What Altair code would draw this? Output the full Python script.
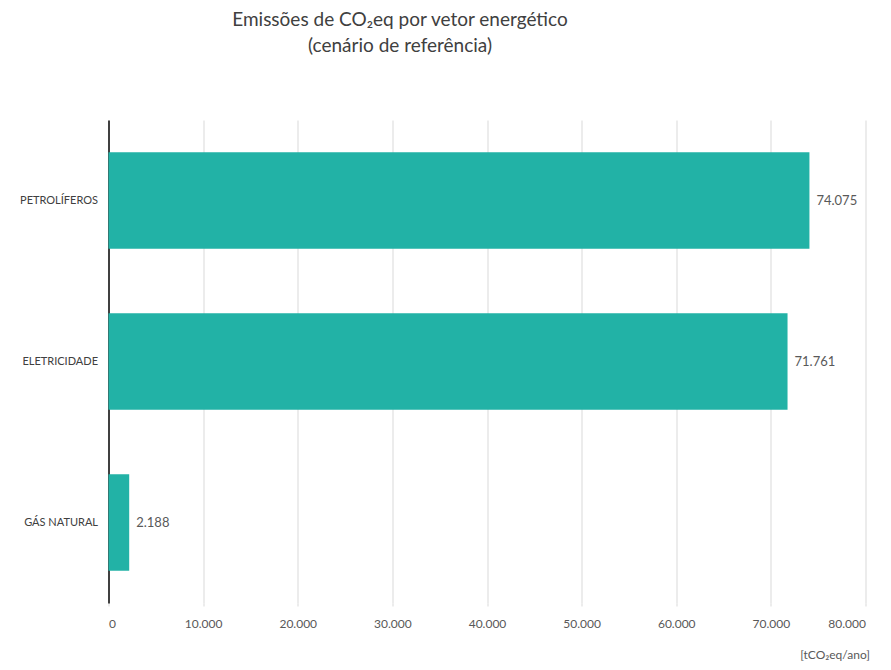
import altair as alt
import pandas as pd

categories = ["PETROLÍFEROS", "ELETRICIDADE", "GÁS NATURAL"]
values = [74075, 71761, 2188]
x_ticks = [0, 10000, 20000, 30000, 40000, 50000, 60000, 70000, 80000]

df = pd.DataFrame({"vetor": categories, "emissoes": values})

FONT = "Lato"
TEAL = "#22B2A6"

base = alt.Chart(df).encode(
    y=alt.Y(
        "vetor:N",
        sort=categories,
        scale=alt.Scale(paddingInner=0.4, paddingOuter=0.2),
        axis=alt.Axis(
            title=None,
            ticks=False,
            grid=False,
            domain=True,
            domainColor="#404040",
            domainWidth=2,
            labelPadding=11,
            labelFontSize=11,
            labelColor="#404040",
            labelFont=FONT,
        ),
    ),
    x=alt.X(
        "emissoes:Q",
        scale=alt.Scale(domain=[0, 80000], nice=False),
        axis=alt.Axis(
            values=x_ticks,
            format=",d",
            title="[tCO₂eq/ano]",
            titleAnchor="end",
            titleAlign="right",
            titleX=761,
            titleFontSize=12,
            titleFontWeight="normal",
            titleColor="#595959",
            titleFont=FONT,
            titlePadding=20,
            domain=False,
            grid=True,
            gridColor="#d9d9d9",
            tickColor="#d9d9d9",
            tickSize=3,
            labelPadding=12,
            labelFontSize=12,
            labelColor="#595959",
            labelFont=FONT,
        ),
    ),
)

bars = base.mark_bar(color=TEAL)
labels = base.mark_text(
    align="left", dx=7, fontSize=13, color="#595959", font=FONT
).encode(text=alt.Text("emissoes:Q", format=",d"))

chart = (
    (bars + labels)
    .properties(
        width=757,
        height=483,
        title=alt.TitleParams(
            text=["Emissões de CO₂eq por vetor energético", "(cenário de referência)"],
            fontSize=19,
            fontWeight="normal",
            font=FONT,
            color="#404040",
            anchor="middle",
            dx=-87,
            offset=64,
            lineHeight=26,
        ),
        autosize=alt.AutoSizeParams(type="none"),
        padding={"left": 108.5, "top": 120, "right": 25, "bottom": 67},
    )
    .configure(
        locale={
            "number": {
                "decimal": ",",
                "thousands": ".",
                "grouping": [3],
                "currency": ["", " €"],
            }
        }
    )
    .configure_view(stroke=None)
)

chart.save("out.html", embed_options={"renderer": "svg", "actions": False})
